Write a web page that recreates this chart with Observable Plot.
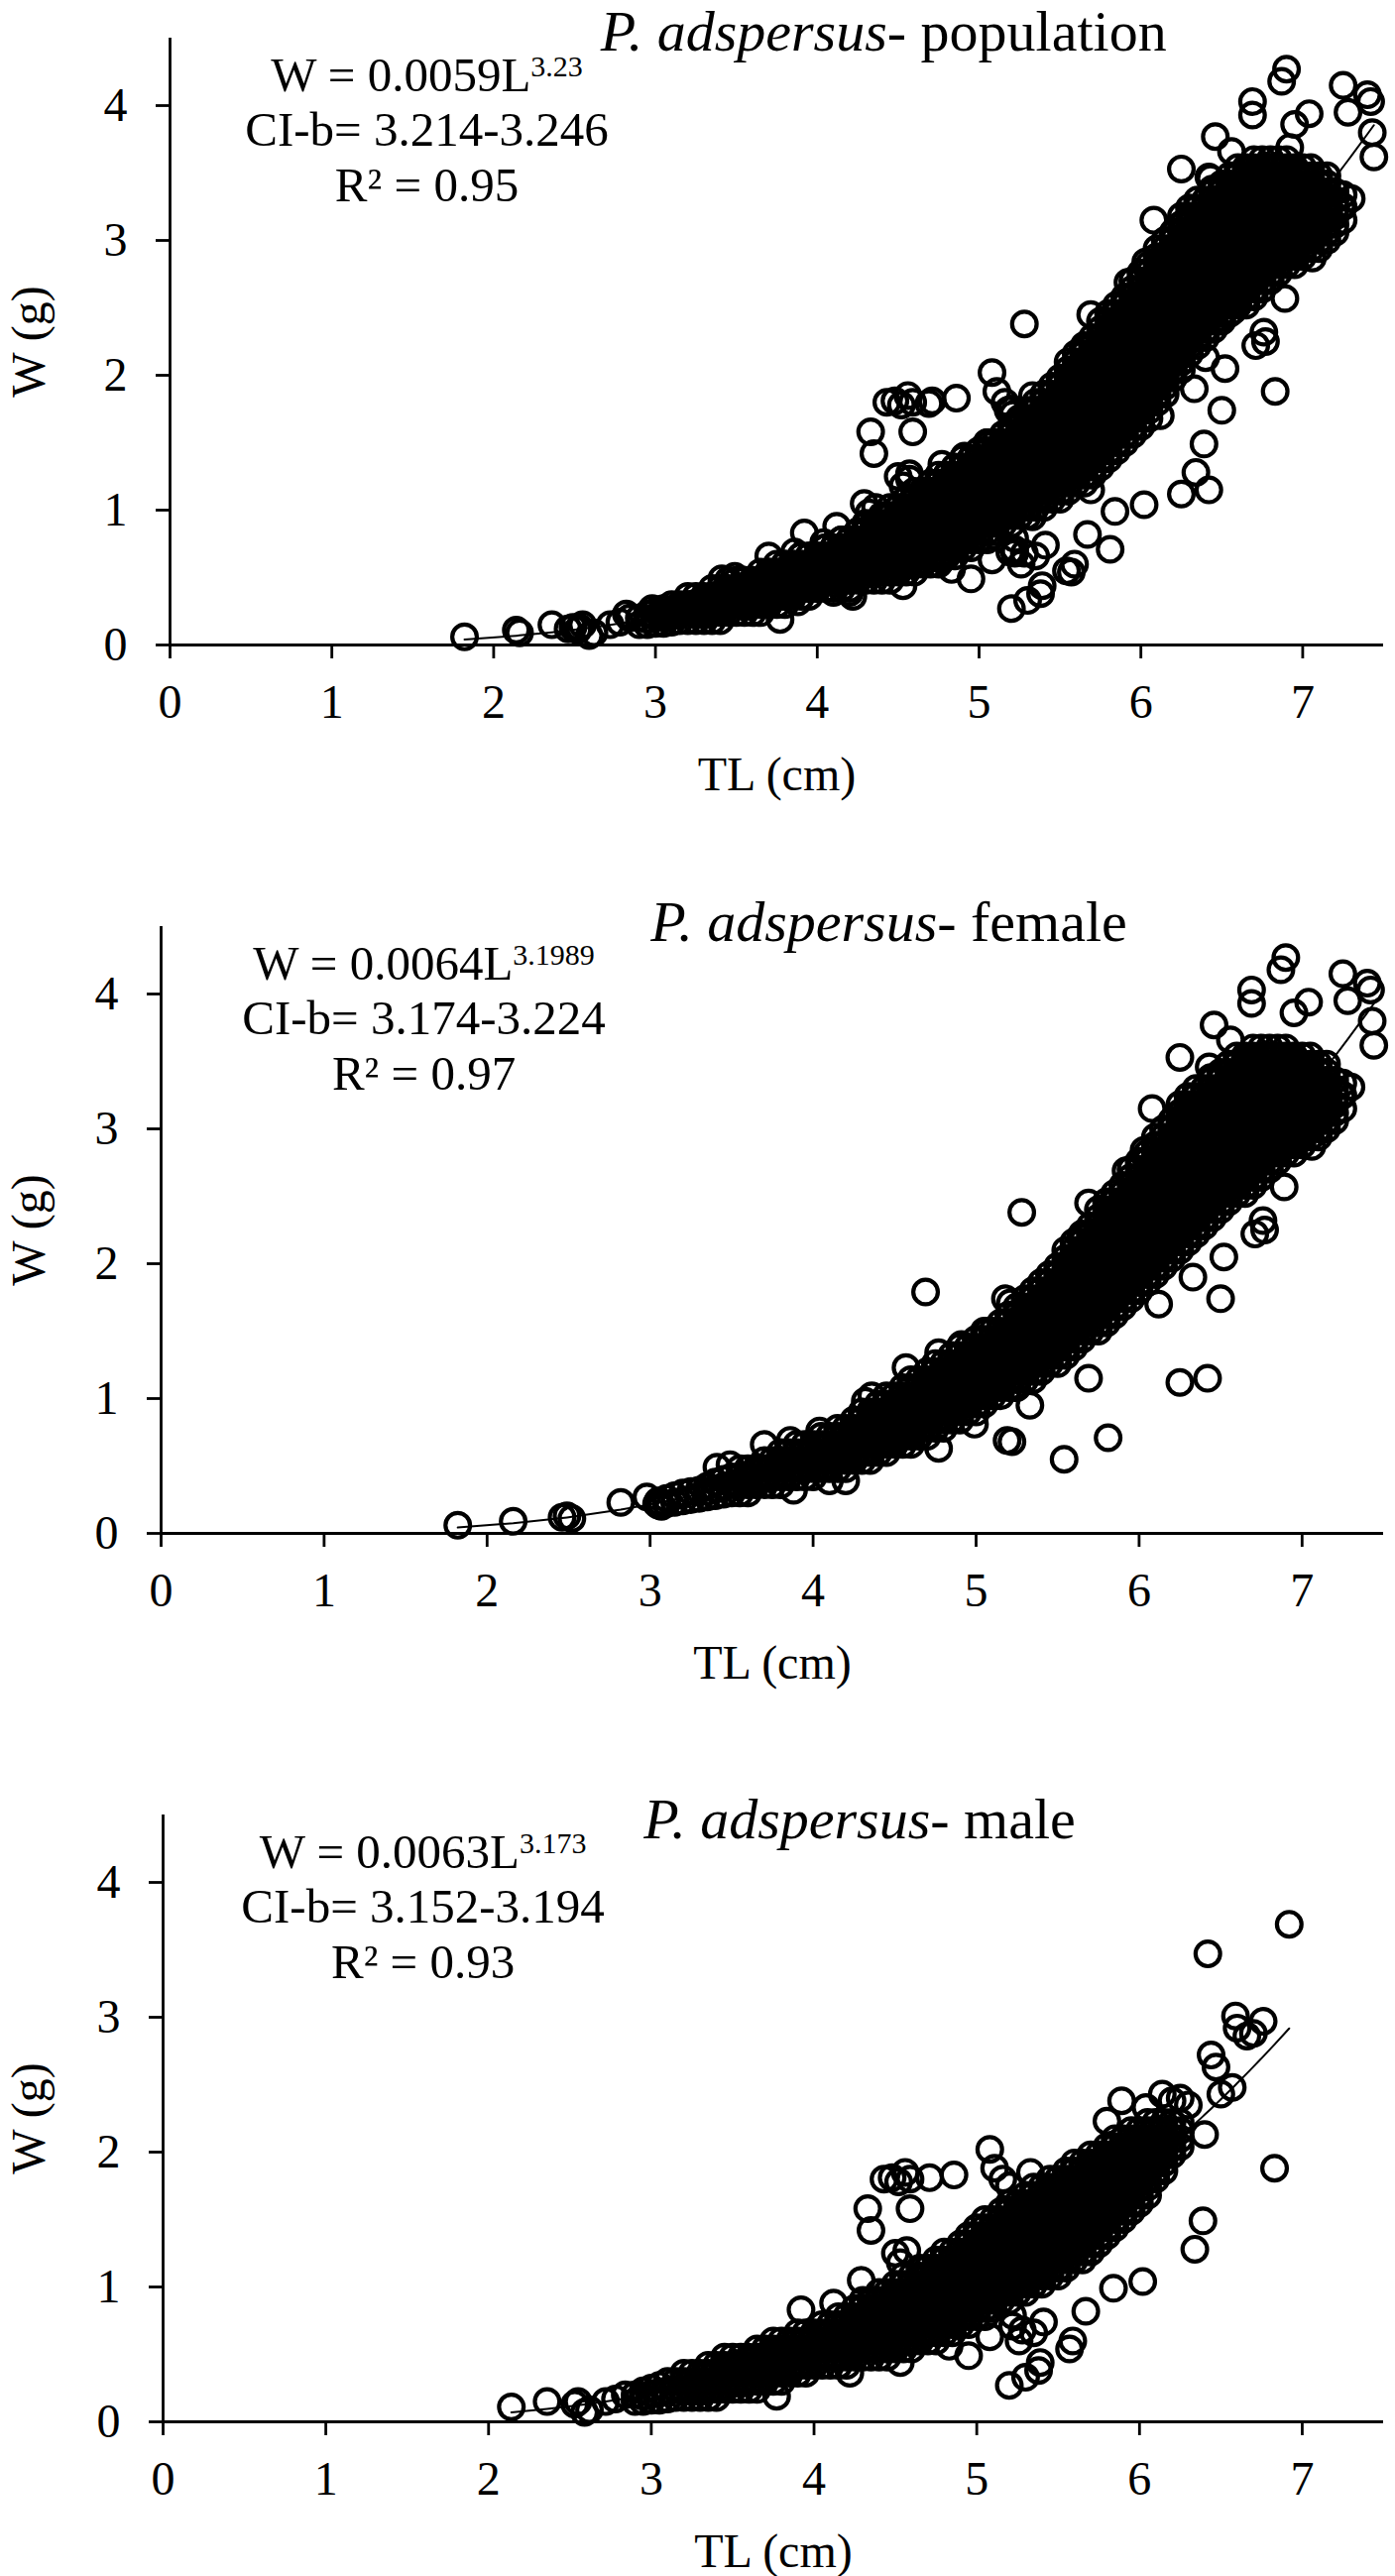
<!DOCTYPE html>
<html><head><meta charset="utf-8">
<script src="https://cdn.jsdelivr.net/npm/d3@7"></script>
<script src="https://cdn.jsdelivr.net/npm/@observablehq/plot@0.6"></script>
<style>
body{margin:0;background:#fff;}
#chart svg{display:block;}
</style></head><body><div id="chart"></div>
<script>
// ---- axis ticks ----
const xTicks = [0,1,2,3,4,5,6,7];
const yTicks = [0,1,2,3,4];

// ---- panel texts ----
const titles = ["P. adspersus|- population","P. adspersus|- female","P. adspersus|- male"];
const eqW  = ["W = 0.0059L^3.23","W = 0.0064L^3.1989","W = 0.0063L^3.173"];
const eqCI = ["CI-b= 3.214-3.246","CI-b= 3.174-3.224","CI-b= 3.152-3.194"];
const eqR2 = ["R\u00B2 = 0.95","R\u00B2 = 0.97","R\u00B2 = 0.93"];
const fitA = [0.0059,0.0064,0.0063];
const fitB = [3.23,3.1989,3.173];

// ---- female: dense core (TL in 1/100 cm, W in 1/100 g), read column by column ----
const femaleCoreTL = [305,310,315,320,325,330,335,340,345,350,355,360,365,370,375,380,385,390,395,400,405,410,415,420,425,430,435,440,445,450,455,460,465,470,475,480,485,490,495,500,505,510,515,520,525,530,535,540,545,550,555,560,565,570,575,580,585,590,595,600,605,610,615,620,625,630,635,640,645,650,655,660,665,670,675,680,685,690,695,700,705,710,715,720,725];
const femaleCoreW = [
[21,24],[22,26],[23,28],[24,30],[25,31],[26,32],[27,31,35],[28,33,38],[29,35,40],[30,36,42],
[30,36,42,48],[30,36,42,48],[36,42,48],[36,42,48,54],[36,42,48,54],[36,42,48,54,60],[42,48,54,60],[42,48,54,60,66],[42,48,54,60,66],[42,48,54,60,66],
[48,54,60,66,72],[48,54,60,66,72],[48,54,60,66,72,78],[48,54,60,66,72,78],[54,60,66,72,78,84],[54,60,66,72,78,84,90],[54,60,66,72,78,84,90],[60,66,72,78,84,90,96],[60,66,72,78,84,90,96,102],[66,72,78,84,90,96,102],
[66,72,78,84,90,96,102,108],[66,72,78,84,90,96,102,108,114],[72,78,84,90,96,102,108,114],[72,78,84,90,96,102,108,114,120],[78,84,90,96,102,108,114,120,126],[78,84,90,96,102,108,114,120,126],[84,90,96,102,108,114,120,126,132],[84,90,96,102,108,114,120,126,132,138],[90,96,102,108,114,120,126,132,138],[90,96,102,108,114,120,126,132,138,144],
[96,102,108,114,120,126,132,138,144,150],[102,108,114,120,126,132,138,144,150],[102,108,114,120,126,132,138,144,150,156],[108,114,120,126,132,138,144,150,156,162],[108,114,120,126,132,138,144,150,156,162,168],[114,120,126,132,138,144,150,156,162,168,174],[114,120,126,132,138,144,150,156,162,168,174,180],[120,126,132,138,144,150,156,162,168,174,180,186],[126,132,138,144,150,156,162,168,174,180,186,192],[126,132,138,144,150,156,162,168,174,180,186,192,198],
[132,138,144,150,156,162,168,174,180,186,192,198,204,210],[138,144,150,156,162,168,174,180,186,192,198,204,210,216],[144,150,156,162,168,174,180,186,192,198,204,210,216,222],[150,156,162,168,174,180,186,192,198,204,210,216,222,228],[150,156,162,168,174,180,186,192,198,204,210,216,222,228,234,240],[156,162,168,174,180,186,192,198,204,210,216,222,228,234,240,246],[162,168,174,180,186,192,198,204,210,216,222,228,234,240,246,252],[168,174,180,186,192,198,204,210,216,222,228,234,240,246,252,258],[174,180,186,192,198,204,210,216,222,228,234,240,246,252,258,264,270],[180,186,192,198,204,210,216,222,228,234,240,246,252,258,264,270,276],
[186,192,198,204,210,216,222,228,234,240,246,252,258,264,270,276,282],[192,198,204,210,216,222,228,234,240,246,252,258,264,270,276,282,288,294],[198,204,210,216,222,228,234,240,246,252,258,264,270,276,282,288,294,300],[204,210,216,222,228,234,240,246,252,258,264,270,276,282,288,294,300,306],[210,216,222,228,234,240,246,252,258,264,270,276,282,288,294,300,306,312,318],[216,222,228,234,240,246,252,258,264,270,276,282,288,294,300,306,312,318,324],[222,228,234,240,246,252,258,264,270,276,282,288,294,300,306,312,318,324,330],[228,234,240,246,252,258,264,270,276,282,288,294,300,306,312,318,324,330],[234,240,246,252,258,264,270,276,282,288,294,300,306,312,318,324,330,336],[240,246,252,258,264,270,276,282,288,294,300,306,312,318,324,330,336,342],
[246,252,258,264,270,276,282,288,294,300,306,312,318,324,330,336,342,348],[252,258,264,270,276,282,288,294,300,306,312,318,324,330,336,342,348,354],[252,258,264,270,276,282,288,294,300,306,312,318,324,330,336,342,348,354],[258,264,270,276,282,288,294,300,306,312,318,324,330,336,342,348,354,360],[264,270,276,282,288,294,300,306,312,318,324,330,336,342,348,354,360],[270,276,282,288,294,300,306,312,318,324,330,336,342,348,354,360],[276,282,288,294,300,306,312,318,324,330,336,342,348,354,360],[282,288,294,300,306,312,318,324,330,336,342,348,354,360],[282,288,294,300,306,312,318,324,330,336,342,348,354],[288,294,300,306,312,318,324,330,336,342,348,354],
[294,300,306,312,318,324,330,336,342,348,354],[294,300,306,312,318,324,330,336,342,348],[300,306,312,318,324,330,336,342,348],[306,312,318,324,330,336],[315,325,334]
];
// female: scattered / edge fish (TL cm, W g)
const femaleOutTL = [1.82,2.16,2.46,2.49,2.52,2.82,2.98,3.04,3.07,
3.41,3.49,3.70,3.86,4.04,4.32,4.36,4.57,4.77,4.91,5.07,4.69,5.18,5.21,5.19,4.77,4.10,4.20,3.88,4.99,
5.33,5.22,5.54,5.81,5.69,6.25,6.42,6.50,
5.28,5.58,5.64,5.69,5.84,5.92,6.03,6.08,6.26,6.30,6.25,6.43,6.44,6.46,6.56,6.69,6.69,6.87,6.90,6.95,7.04,7.25,7.28,7.40,7.42,7.43,7.44,7.30,7.24,7.06,6.89,6.76,6.77,6.71,
6.12,6.33,6.52];
const femaleOutW = [0.06,0.09,0.12,0.13,0.11,0.23,0.27,0.22,0.20,
0.49,0.51,0.66,0.69,0.76,0.98,1.02,1.23,1.34,1.40,1.50,1.79,1.74,1.71,0.69,0.63,0.39,0.39,0.32,0.81,
0.95,0.68,0.55,0.71,1.15,1.12,1.15,1.74,
2.38,2.02,2.19,2.45,2.45,2.69,2.84,3.15,3.12,3.15,3.53,3.46,3.38,3.77,3.66,4.03,3.93,4.18,4.27,3.86,3.94,4.15,3.95,4.08,4.03,3.80,3.62,3.31,3.25,2.87,2.57,2.32,2.25,2.22,
1.70,1.90,2.05];

// ---- male: dense core ----
const maleCoreTL = [290,295,300,305,310,315,320,325,330,335,340,345,350,355,360,365,370,375,380,385,390,395,400,405,410,415,420,425,430,435,440,445,450,455,460,465,470,475,480,485,490,495,500,505,510,515,520,525,530,535,540,545,550,555,560,565,570,575,580,585,590,595,600,605,610,615,620,625];
const maleCoreW = [
[15,20],[15,19,23],[16,21,25],[16,22,27],[17,23,30],[18,24,30],[18,24,30,36],[18,24,30,36],[18,24,30,36],[18,24,30,36,42],
[18,24,30,36,42],[24,30,36,42,48],[24,30,36,42,48],[24,30,36,42,48],[24,30,36,42,48],[24,30,36,42,48,54],[30,36,42,48,54],[30,36,42,48,54,60],[30,36,42,48,54,60],[36,42,48,54,60],
[36,42,48,54,60,66],[36,42,48,54,60,66],[42,48,54,60,66],[42,48,54,60,66,72],[42,48,54,60,66,72],[42,48,54,60,66,72,78],[42,48,54,60,66,72,78],[48,54,60,66,72,78,84],[48,54,60,66,72,78,84,90],[48,54,60,66,72,78,84,90],
[48,54,60,66,72,78,84,90,96],[48,54,60,66,72,78,84,90,96],[54,60,66,72,78,84,90,96,102],[54,60,66,72,78,84,90,96,102,108],[54,60,66,72,78,84,90,96,102,108],[60,66,72,78,84,90,96,102,108,114],[60,66,72,78,84,90,96,102,108,114],[60,66,72,78,84,90,96,102,108,114,120],[66,72,78,84,90,96,102,108,114,120,126],[66,72,78,84,90,96,102,108,114,120,126],
[72,78,84,90,96,102,108,114,120,126,132],[72,78,84,90,96,102,108,114,120,126,132,138],[78,84,90,96,102,108,114,120,126,132,138,144],[78,84,90,96,102,108,114,120,126,132,138,144,150],[84,90,96,102,108,114,120,126,132,138,144,150],[90,96,102,108,114,120,126,132,138,144,150,156],[90,96,102,108,114,120,126,132,138,144,150,156,162],[96,102,108,114,120,126,132,138,144,150,156,162],[96,102,108,114,120,126,132,138,144,150,156,162,168],[102,108,114,120,126,132,138,144,150,156,162,168,174],
[102,108,114,120,126,132,138,144,150,156,162,168,174],[108,114,120,126,132,138,144,150,156,162,168,174,180],[108,114,120,126,132,138,144,150,156,162,168,174,180],[114,120,126,132,138,144,150,156,162,168,174,180,186],[120,126,132,138,144,150,156,162,168,174,180,186,192],[120,126,132,138,144,150,156,162,168,174,180,186,192],[126,132,138,144,150,156,162,168,174,180,186,192,198],[132,138,144,150,156,162,168,174,180,186,192,198],[138,144,150,156,162,168,174,180,186,192,198,204],[144,150,156,162,168,174,180,186,192,198,204,210],
[150,156,162,168,174,180,186,192,198,204,210],[156,162,168,174,180,186,192,198,204,210,216],[162,168,174,180,186,192,198,204,210,216],[168,174,180,186,192,198,204,210,216,222],[180,186,192,198,204,210,216,222],[186,192,198,204,210,216,222],[198,204,210,216,222],[204,210,216,222]
];
// male: scattered / edge fish
const maleOutTL = [2.14,2.36,2.53,2.55,2.59,2.62,2.72,2.78,2.84,
3.77,4.22,4.53,4.83,4.95,5.08,5.22,5.22,5.26,5.28,5.35,5.41,5.57,5.59,5.20,5.30,5.38,5.39,5.67,5.84,6.02,6.34,6.39,6.83,
3.92,4.12,4.29,4.53,4.57,4.50,4.35,4.33,4.59,4.43,4.48,4.52,4.56,4.59,4.71,4.86,5.08,5.11,5.16,5.20,5.33,5.80,5.89,6.04,6.14,6.20,6.25,6.30,6.40,6.50,6.57,6.44,6.47,6.59,6.60,6.66,6.70,6.76,6.42,6.92];
const maleOutW = [0.11,0.15,0.13,0.15,0.07,0.09,0.15,0.17,0.20,
0.19,0.36,0.44,0.56,0.49,0.63,0.79,0.71,0.60,0.68,0.66,0.74,0.54,0.60,0.27,0.33,0.38,0.44,0.82,0.99,1.04,1.28,1.49,1.88,
0.83,0.88,1.05,1.18,1.27,1.25,1.42,1.58,1.58,1.80,1.81,1.78,1.85,1.80,1.81,1.83,2.02,1.88,1.80,1.75,1.85,2.23,2.38,2.33,2.43,2.38,2.40,2.35,2.13,2.43,2.48,2.72,2.63,3.01,2.92,2.86,2.88,2.97,3.47,3.69];

// ---- build tables ----
function expand(tl, ws){ const out=[]; tl.forEach((t,i)=>ws[i].forEach(w=>out.push({TL:t/100, W:w/100}))); return out; }
function pairs(tl, w){ return tl.map((t,i)=>({TL:t, W:w[i]})); }
const female = expand(femaleCoreTL, femaleCoreW).concat(pairs(femaleOutTL, femaleOutW));
const male = expand(maleCoreTL, maleCoreW).concat(pairs(maleOutTL, maleOutW));
const population = female.concat(male);
const datasets = [population, female, male];

function fitLine(pts, a, b){
  const xs = Array.from(new Set(pts.map(d=>d.TL))).sort((p,q)=>p-q);
  return xs.map(x=>({TL:x, W:a*Math.pow(x,b)}));
}

// ---- layout (pixels / annotation anchors) ----
const layout = [
  {h:896, ml:171, eqX:1.587, titleX:4.41,  titleY:4.41},
  {h:896, ml:162, eqX:1.612, titleX:4.465, titleY:4.397},
  {h:806, ml:164, eqX:1.597, titleX:4.28,  titleY:4.33}
];
const eqY = [4.107, 3.699, 3.287];
const yLabelX = 44;   // page x of the rotated y-label baseline

function richText(svg){
  d3.select(svg).selectAll("text").each(function(){
    const t = this.textContent;
    const sel = d3.select(this);
    if (t.includes("^")) {
      const [base, sup] = t.split("^");
      sel.text(null);
      sel.append("tspan").text(base);
      sel.append("tspan").attr("font-size", 30).attr("dy", -15).text(sup);
    } else if (t.includes("|")) {
      const [it, rest] = t.split("|");
      sel.text(null);
      sel.append("tspan").attr("font-style","italic").text(it);
      sel.append("tspan").text(rest);
    }
  });
}

const root = document.getElementById("chart");
const fmt = d3.format("d");
datasets.forEach((pts, k) => {
  const L = layout[k];
  const eqRows = [
    {x:L.eqX, y:eqY[0], t:eqW[k]},
    {x:L.eqX, y:eqY[1], t:eqCI[k]},
    {x:L.eqX, y:eqY[2], t:eqR2[k]}
  ];
  const svg = Plot.plot({
    width:1407, height:L.h,
    marginLeft:L.ml, marginRight:12, marginTop:38, marginBottom:L.h-650,
    x:{domain:[0,7.5]}, y:{domain:[0,4.5]},
    style:{fontFamily:"'Liberation Serif','Times New Roman',serif", fontSize:"48px", color:"#000", background:"#fff", overflow:"visible"},
    marks:[
      Plot.dot(pts, {x:"TL", y:"W", r:12.4, stroke:"#000", strokeWidth:4.2, fill:"none"}),
      Plot.line(fitLine(pts, fitA[k], fitB[k]), {x:"TL", y:"W", stroke:"#000", strokeWidth:2}),
      Plot.ruleY([0], {stroke:"#000", strokeWidth:2.8}),
      Plot.ruleX([0], {stroke:"#000", strokeWidth:2.8}),
      Plot.axisX({ticks:xTicks, tickFormat:fmt, tickSize:14, tickPadding:25, strokeWidth:2.8, fontSize:48, label:null}),
      Plot.axisY({ticks:yTicks, tickFormat:fmt, tickSize:14, tickPadding:29, strokeWidth:2.8, fontSize:48, label:null}),
      Plot.text(["TL (cm)"], {text:d=>d, frameAnchor:"bottom", dy:146, lineAnchor:"bottom", fontSize:48}),
      Plot.text(["W (g)"], {text:d=>d, frameAnchor:"left", dx:yLabelX - L.ml, rotate:-90, lineAnchor:"bottom", textAnchor:"middle", fontSize:48}),
      Plot.text(eqRows, {x:"x", y:"y", text:"t", fontSize:49, lineAnchor:"bottom", textAnchor:"middle"}),
      Plot.text([{x:L.titleX, y:L.titleY, t:titles[k]}], {x:"x", y:"y", text:"t", fontSize:58, lineAnchor:"bottom", textAnchor:"middle"})
    ]
  });
  richText(svg);
  root.appendChild(svg);
});
</script>
</body></html>
